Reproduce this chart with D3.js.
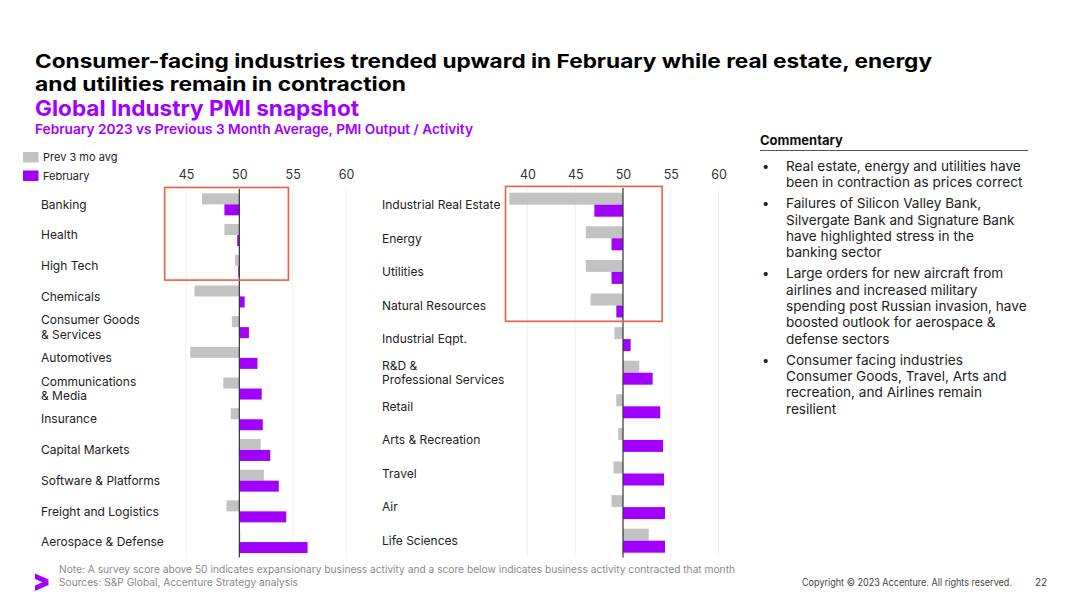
<!DOCTYPE html>
<html>
<head>
<meta charset="utf-8">
<script src="https://cdn.jsdelivr.net/npm/d3@7"></script>
<style>
  body { margin: 0; background: #fff; }
  svg { display: block; font-family: Inter, "Open Sans", sans-serif; }
</style>
</head>
<body>
<svg id="chart" width="1080" height="607"></svg>
<script>
// left panel
const leftCats = ["Banking", "Health", "High Tech", "Chemicals", "Consumer Goods\n& Services", "Automotives",
  "Communications\n& Media", "Insurance", "Capital Markets", "Software & Platforms", "Freight and Logistics", "Aerospace & Defense"];
const leftPrev = [46.5, 48.6, 49.6, 45.8, 49.3, 45.4, 48.5, 49.2, 52.0, 52.3, 48.8, 50.1];
const leftFeb  = [48.6, 49.8, 49.9, 50.5, 50.9, 51.7, 52.1, 52.2, 52.9, 53.7, 54.4, 56.4];
const leftTicks = [45, 50, 55, 60];

// right panel
const rightCats = ["Industrial Real Estate", "Energy", "Utilities", "Natural Resources", "Industrial Eqpt.",
  "R&D &\nProfessional Services", "Retail", "Arts & Recreation", "Travel", "Air", "Life Sciences"];
const rightPrev = [38.1, 46.1, 46.1, 46.6, 49.1, 51.7, 49.3, 49.5, 49.0, 48.8, 52.7];
const rightFeb  = [47.0, 48.8, 48.8, 49.3, 50.8, 53.1, 53.9, 54.2, 54.3, 54.4, 54.4];
const rightTicks = [40, 45, 50, 55, 60];

const seriesNames = ["Prev 3 mo avg", "February"];

const titleLines = ["Consumer-facing industries trended upward in February while real estate, energy",
  "and utilities remain in contraction"];

const commentary = [
  ["Real estate, energy and utilities have", "been in contraction as prices correct"],
  ["Failures of Silicon Valley Bank,", "Silvergate Bank and Signature Bank", "have highlighted stress in the", "banking sector"],
  ["Large orders for new aircraft from", "airlines and increased military", "spending post Russian invasion, have", "boosted outlook for aerospace &", "defense sectors"],
  ["Consumer facing industries", "Consumer Goods, Travel, Arts and", "recreation, and Airlines remain", "resilient"]
];

const GREY = "#c2c2c2", PURPLE = "#a100ff", RED = "#ef5a43";
const svg = d3.select("#chart");

// title: two lines, widened to the reference width
const titleWidths = [897, 371];
titleLines.forEach((t, i) => {
  svg.append("text").attr("x", 35).attr("y", 67.5 + i * 23)
    .attr("font-size", 19).attr("font-weight", 700).attr("fill", "#000")
    .attr("textLength", titleWidths[i]).attr("lengthAdjust", "spacingAndGlyphs")
    .text(t);
});
svg.append("text").attr("x", 35).attr("y", 116).attr("font-size", 21.5).attr("font-weight", 700)
  .attr("fill", PURPLE).attr("textLength", 324).attr("lengthAdjust", "spacingAndGlyphs")
  .text("Global Industry PMI snapshot");
svg.append("text").attr("x", 35).attr("y", 134).attr("font-size", 13).attr("font-weight", 600)
  .attr("fill", PURPLE).attr("textLength", 438).attr("lengthAdjust", "spacingAndGlyphs")
  .text("February 2023 vs Previous 3 Month Average, PMI Output / Activity");

// legend
const legend = svg.append("g");
seriesNames.forEach((name, i) => {
  legend.append("rect").attr("x", 23).attr("y", 152 + i * 18.5).attr("width", 15.5).attr("height", 10.5)
    .attr("fill", i == 0 ? GREY : PURPLE);
  legend.append("text").attr("x", 43).attr("y", 161 + i * 18.5).attr("font-size", 11).attr("fill", "#222").text(name);
});

function drawPanel(cats, prev, feb, ticks, xScale, yRange, pad, labelX, box) {
  const g = svg.append("g");
  const y = d3.scaleBand().domain(cats).range(yRange).paddingInner(pad).paddingOuter(pad / 2);
  const bw = y.bandwidth() / 2;

  // faint grid
  g.selectAll(".grid").data(ticks.filter(t => t != 50)).join("line")
    .attr("x1", d => xScale(d)).attr("x2", d => xScale(d))
    .attr("y1", yRange[0]).attr("y2", yRange[1])
    .attr("stroke", "#f1f1f1").attr("stroke-width", 1);

  // tick labels
  const axis = d3.axisTop(xScale).tickValues(ticks).tickSize(0).tickPadding(0);
  const ag = g.append("g").attr("transform", "translate(0,179)").call(axis);
  ag.select(".domain").remove();
  ag.selectAll("text").attr("font-size", 12.5).attr("fill", "#333").attr("font-family", "Inter, sans-serif")
    .attr("dy", 0);

  const rows = cats.map((c, i) => ({ c, prev: prev[i], feb: feb[i] }));

  g.selectAll(".prev").data(rows).join("rect")
    .attr("x", d => Math.min(xScale(d.prev), xScale(50)))
    .attr("y", d => y(d.c))
    .attr("width", d => Math.max(Math.abs(xScale(d.prev) - xScale(50)), 0.8))
    .attr("height", bw)
    .attr("fill", GREY);

  g.selectAll(".feb").data(rows).join("rect")
    .attr("x", d => Math.min(xScale(d.feb), xScale(50)))
    .attr("y", d => y(d.c) + bw)
    .attr("width", d => Math.max(Math.abs(xScale(d.feb) - xScale(50)), 0.8))
    .attr("height", bw)
    .attr("fill", PURPLE);

  // 50 line
  g.append("line").attr("x1", xScale(50)).attr("x2", xScale(50))
    .attr("y1", yRange[0]).attr("y2", yRange[1])
    .attr("stroke", "#333").attr("stroke-width", 1.2);

  // category labels
  g.selectAll(".lab").data(cats).join("text")
    .attr("x", labelX)
    .attr("y", d => y(d) + bw)
    .attr("font-size", 12).attr("fill", "#222")
    .each(function(d) {
      const lines = d.split("\n");
      d3.select(this).selectAll("tspan").data(lines).join("tspan")
        .attr("x", labelX)
        .attr("dy", (l, i) => i == 0 ? (0.35 - (lines.length - 1) * 0.6) + "em" : "1.2em")
        .text(l => l);
    });

  // highlight box
  const top = y(cats[0]) - y.step() * pad / 2 - 1.5;
  const bottom = y(cats[box.last]) + y.bandwidth() + y.step() * pad / 2 - 1;
  g.append("rect").attr("x", xScale(box.from)).attr("y", top)
    .attr("width", xScale(box.to) - xScale(box.from)).attr("height", bottom - top)
    .attr("fill", "none").attr("stroke", RED).attr("stroke-width", 1.6);
}

const xLeft = d3.scaleLinear().domain([45, 60]).range([186, 346]);
drawPanel(leftCats, leftPrev, leftFeb, leftTicks, xLeft, [189, 557.4], 0.283, 41, { from: 43, to: 54.6, last: 2 });

const xRight = d3.scaleLinear().domain([40, 60]).range([527.5, 718.5]);
drawPanel(rightCats, rightPrev, rightFeb, rightTicks, xRight, [187.9, 557.5], 0.286, 382, { from: 37.7, to: 54.1, last: 3 });

// commentary
const cm = svg.append("g");
cm.append("text").attr("x", 760).attr("y", 145).attr("font-size", 13).attr("font-weight", 700)
  .attr("fill", "#111").text("Commentary");
cm.append("line").attr("x1", 760).attr("x2", 1028).attr("y1", 150.5).attr("y2", 150.5)
  .attr("stroke", "#555").attr("stroke-width", 1);
let cy = 171;
commentary.forEach(lines => {
  cm.append("text").attr("x", 762).attr("y", cy).attr("font-size", 13).attr("fill", "#222").text("•");
  lines.forEach((l, i) => {
    cm.append("text").attr("x", 786).attr("y", cy + i * 16.3).attr("font-size", 13.6).attr("fill", "#222").text(l);
  });
  cy += lines.length * 16.3 + 4.8;
});

// footer
const foot = svg.append("g").attr("fill", "#8a8a8a");
foot.append("text").attr("x", 59).attr("y", 573).attr("font-size", 10).attr("textLength", 676)
  .attr("lengthAdjust", "spacingAndGlyphs")
  .text("Note: A survey score above 50 indicates expansionary business activity and a score below indicates business activity contracted that month");
foot.append("text").attr("x", 59).attr("y", 586).attr("font-size", 10).attr("textLength", 239)
  .attr("lengthAdjust", "spacingAndGlyphs").text("Sources: S&P Global, Accenture Strategy analysis");
svg.append("text").attr("x", 802).attr("y", 586).attr("font-size", 10).attr("fill", "#444").attr("textLength", 210)
  .attr("lengthAdjust", "spacingAndGlyphs").text("Copyright © 2023 Accenture. All rights reserved.");
svg.append("text").attr("x", 1035).attr("y", 586).attr("font-size", 10).attr("fill", "#444").text("22");

// accenture chevron
svg.append("path").attr("d", "M35,573.5 L48.5,579.5 L48.5,585 L35,591 L35,585.5 L42.5,582.2 L35,579 Z").attr("fill", PURPLE);
</script>
</body>
</html>
